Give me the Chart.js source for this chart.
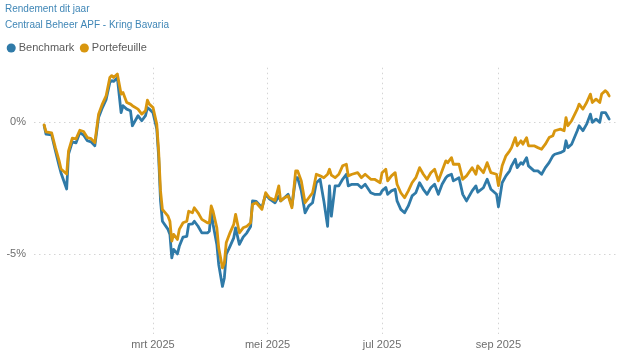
<!DOCTYPE html>
<html><head><meta charset="utf-8">
<script src="https://cdn.jsdelivr.net/npm/chart.js@4.4.1/dist/chart.umd.min.js"></script>
<style>html,body{margin:0;padding:0;background:#fff}#wrap{width:636px;height:362px;position:relative}</style>
</head><body><div id="wrap"><canvas id="c" width="636" height="362"></canvas></div>
<script>
// day of year 2025 (0 = 1 jan)
const days = [
  1,2,5,7,9,10,13,14,16,18,
  20,22,24,26,28,30,32,34,36,37,
  38,40,42,43,45,47,48,51,53,55,
  56,57,59,61,62,63,64,67,68,69,
  70,72,73,75,77,78,80,81,83,85,
  88,89,90,91,93,94,96,97,98,100,
  102,103,105,107,109,111,112,114,117,119,
  121,124,126,127,129,131,133,135,136,138,
  140,142,144,146,148,150,152,153,154,156,
  158,160,162,163,165,168,170,172,175,177,
  180,181,183,184,186,188,189,191,193,195,
  197,199,201,203,205,207,209,211,213,215,
  216,218,219,222,224,226,229,231,232,235,
  237,239,242,243,245,247,249,250,252,253,
  255,256,258,259,262,264,266,268,270,272,
  273,276,278,279,280,282,285,286,288,290,
  292,293,295,297,298,300,301,302
];
const portefeuille = [
  -0.10,-0.36,-0.40,-0.96,-1.46,-1.77,-1.96,-1.08,-0.60,-0.63,
  -0.30,-0.35,-0.58,-0.62,-0.77,0.31,0.69,1.00,1.70,1.77,
  1.70,1.83,1.07,1.13,0.75,0.69,0.63,0.50,0.31,0.44,
  0.84,0.69,0.56,-0.07,-1.10,-2.60,-3.30,-3.56,-3.75,-4.50,
  -4.25,-4.44,-4.06,-3.81,-3.75,-3.37,-3.43,-3.24,-3.43,-3.68,
  -3.81,-3.81,-3.17,-3.37,-4.00,-4.76,-5.52,-5.33,-4.57,-4.19,
  -3.87,-3.49,-4.19,-4.00,-3.94,-3.81,-3.11,-3.05,-3.30,-2.67,
  -2.86,-2.96,-2.41,-2.98,-2.86,-2.79,-3.24,-1.84,-1.84,-2.22,
  -3.05,-2.86,-2.67,-1.97,-2.03,-2.10,-1.97,-1.78,-2.00,-2.10,
  -1.97,-1.65,-1.59,-2.03,-1.97,-1.91,-2.10,-1.97,-2.16,-2.16,
  -2.29,-1.91,-1.78,-2.22,-2.03,-1.91,-2.35,-2.67,-2.86,-2.60,
  -2.29,-2.10,-1.72,-1.97,-2.16,-1.91,-1.78,-2.22,-1.84,-1.46,
  -1.53,-1.34,-1.59,-1.59,-2.16,-2.03,-1.72,-1.97,-1.65,-1.91,
  -1.53,-1.91,-1.97,-2.40,-1.65,-1.27,-1.08,-0.96,-0.58,-0.89,
  -0.70,-0.83,-0.58,-0.89,-0.89,-0.96,-1.02,-0.83,-0.58,-0.51,
  -0.32,-0.26,-0.32,0.18,-0.13,0.06,0.50,0.69,0.50,0.75,
  1.07,0.75,0.88,0.75,1.07,1.20,1.13,1.00
];
const benchmark = [
  -0.12,-0.45,-0.48,-1.08,-1.65,-1.92,-2.53,-1.20,-0.74,-0.78,
  -0.39,-0.48,-0.70,-0.74,-0.89,0.18,0.55,0.86,1.51,1.58,
  1.55,1.69,0.37,0.63,0.50,0.44,-0.13,0.25,0.06,0.25,
  0.56,0.50,0.36,-0.25,-1.30,-2.98,-3.75,-4.06,-4.25,-5.14,
  -4.82,-4.99,-4.70,-4.35,-4.32,-3.87,-3.85,-3.75,-3.94,-4.19,
  -4.19,-4.13,-3.37,-3.87,-4.63,-5.39,-6.22,-5.90,-5.01,-4.70,
  -4.38,-4.00,-4.63,-4.35,-4.19,-3.95,-2.98,-3.00,-3.24,-2.73,
  -2.90,-3.05,-2.79,-2.98,-2.86,-2.73,-3.17,-2.10,-2.10,-2.60,
  -3.43,-3.17,-3.05,-2.29,-2.16,-2.98,-3.94,-2.41,-3.56,-2.41,
  -2.41,-2.16,-1.97,-2.41,-2.35,-2.35,-2.48,-2.35,-2.67,-2.73,
  -2.73,-2.60,-2.47,-2.73,-2.60,-2.54,-2.98,-3.30,-3.43,-3.17,
  -2.79,-2.67,-2.29,-2.54,-2.73,-2.48,-2.35,-2.73,-2.35,-2.10,
  -2.03,-1.97,-2.22,-2.10,-2.73,-2.98,-2.60,-2.41,-2.65,-2.48,
  -2.16,-2.54,-2.73,-3.20,-2.29,-2.03,-1.84,-1.65,-1.40,-1.72,
  -1.53,-1.59,-1.34,-1.65,-1.84,-1.84,-1.97,-1.72,-1.53,-1.27,
  -1.21,-1.15,-1.08,-0.70,-0.96,-0.83,-0.32,-0.13,-0.32,-0.07,
  0.31,0.00,0.12,0.00,0.37,0.37,0.25,0.12
];
const monthTickDays = [59, 120, 181, 243];
const monthTickLabels = ['mrt 2025', 'mei 2025', 'jul 2025', 'sep 2025'];
const yTickValues = [-5, 0];

const FONT = '"Liberation Sans", Arial, sans-serif';
const BLUE = '#2f7aa8';
const ORANGE = '#d8960e';
const TITLE_COLOR = '#3f86b6';
const TICK_COLOR = '#6e6e6e';
const GRID_COLOR = '#d4d4d4';

const legendTweak = {
  id: 'legendTweak',
  beforeInit(chart) {
    const l = chart.legend;
    if (!l) return;
    const fit = l.fit;
    l.fit = function () { fit.call(this); this.height += 4.2; };
    const draw = l.draw;
    l.draw = function () {
      const ctx = this.ctx;
      ctx.save(); ctx.translate(-3.8, 0); draw.call(this); ctx.restore();
    };
  }
};

new Chart(document.getElementById('c'), {
  type: 'line',
  data: {
    datasets: [
      { label: 'Benchmark', data: days.map((d, i) => ({ x: d, y: benchmark[i] })),
        borderColor: BLUE, backgroundColor: BLUE, order: 2 },
      { label: 'Portefeuille', data: days.map((d, i) => ({ x: d, y: portefeuille[i] })),
        borderColor: ORANGE, backgroundColor: ORANGE, order: 1 }
    ]
  },
  options: {
    responsive: false,
    animation: false,
    elements: {
      point: { radius: 0, hoverRadius: 0 },
      line: { borderWidth: 2.8, tension: 0, borderJoinStyle: 'round', borderCapStyle: 'round' }
    },
    layout: { padding: { left: 5, right: 18, top: 0, bottom: 7.4 } },
    plugins: {
      tooltip: { enabled: false },
      title: { display: true, text: 'Rendement dit jaar', align: 'start', color: TITLE_COLOR,
        font: { family: FONT, size: 10, weight: 'normal' }, padding: { top: 3, bottom: 3.9 } },
      subtitle: { display: true, text: 'Centraal Beheer APF - Kring Bavaria', align: 'start', color: TITLE_COLOR,
        font: { family: FONT, size: 10 }, padding: { top: 0, bottom: 3.6 } },
      legend: {
        display: true, position: 'top', align: 'start',
        labels: {
          usePointStyle: true, pointStyle: 'circle', boxWidth: 4, boxHeight: 6.4, padding: 8,
          color: '#5a5a5a', font: { family: FONT, size: 11 },
          sort: (a, b) => a.datasetIndex - b.datasetIndex,
          generateLabels: (chart) => Chart.defaults.plugins.legend.labels.generateLabels(chart)
            .map(l => Object.assign(l, { lineWidth: 0, fillStyle: l.strokeStyle }))
        }
      }
    },
    scales: {
      x: {
        type: 'linear', min: -4.4, max: 306.7,
        afterBuildTicks: (s) => { s.ticks = monthTickDays.map(v => ({ value: v })); },
        ticks: {
          callback: (v) => { const i = monthTickDays.indexOf(v); return i >= 0 ? monthTickLabels[i] : ''; },
          color: TICK_COLOR, font: { family: FONT, size: 11 }, padding: 3.5, maxRotation: 0, autoSkip: false
        },
        grid: { color: GRID_COLOR, lineWidth: 1, drawTicks: false },
        border: { display: false, dash: [1.5, 3.5] }
      },
      y: {
        min: -8.04, max: 2.07,
        afterBuildTicks: (s) => { s.ticks = yTickValues.map(v => ({ value: v })); },
        afterFit: (s) => { s.width = 29; },
        ticks: { callback: (v) => v + '%', color: TICK_COLOR, font: { family: FONT, size: 11 }, padding: 8 },
        grid: { color: GRID_COLOR, lineWidth: 1, drawTicks: false },
        border: { display: false, dash: [1.5, 3.5] }
      }
    }
  },
  plugins: [legendTweak]
});
</script>
</body></html>
